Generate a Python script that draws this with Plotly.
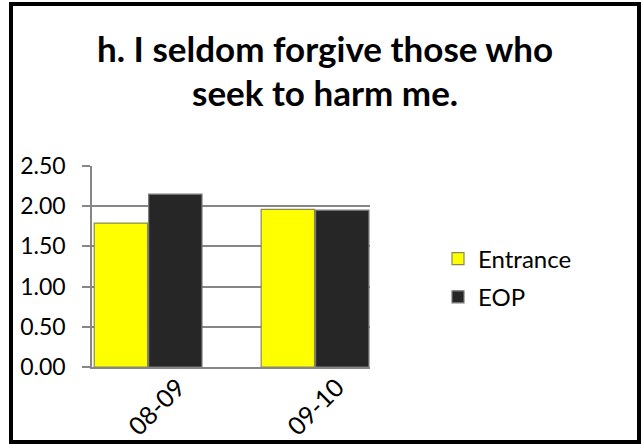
import plotly.graph_objects as go

categories = ["08-09", "09-10"]
entrance = [1.79, 1.96]
eop = [2.15, 1.95]
title_lines = ["h. I seldom forgive those who", "seek to harm me."]

L, R, T, B = 92, 271, 166, 77
W, H = 641, 444
pw, ph = W - L - R, H - T - B

def px_x(p):
    return (p - L) / pw

def px_y(p):
    return (H - B - p) / ph

FONT = "Lato"

fig = go.Figure()
fig.add_trace(go.Bar(x=categories, y=entrance, name="Entrance", legendgroup="a",
                     marker=dict(color="#FFFF00", line=dict(color="#8a8a50", width=1.2))))
fig.add_trace(go.Bar(x=categories, y=eop, name="EOP", legendgroup="b",
                     marker=dict(color="#262626", line=dict(color="#7a7a7a", width=1.2))))
# invisible carrier so the label axis is drawn
fig.add_trace(go.Scatter(x=[0, 1], y=[0, 0], xaxis="x2", mode="markers",
                         marker=dict(opacity=0), showlegend=False, hoverinfo="skip"))

title_pos = [(325, 48), (325, 92)]
annotations = [
    dict(text="<b>" + line + "</b>", xref="paper", yref="paper",
         x=px_x(cx), y=px_y(cy), xanchor="center", yanchor="middle",
         showarrow=False, font=dict(family=FONT, size=35, color="black"))
    for line, (cx, cy) in zip(title_lines, title_pos)
]

# label axis: category positions 0 and 1 placed where the reference shows its labels
lab_px_per_unit = 159
lab_left = -(178 - L) / lab_px_per_unit
lab_right = lab_left + pw / lab_px_per_unit

fig.update_layout(
    width=W, height=H,
    margin=dict(l=L, r=R, t=T, b=B, autoexpand=False),
    paper_bgcolor="white", plot_bgcolor="white",
    barmode="group", bargap=0.348, bargroupgap=0.02,
    font=dict(family=FONT, color="black", size=23),
    annotations=annotations,
    xaxis=dict(type="category", range=[-0.336, 1.329], showgrid=False, showline=True,
               linecolor="#868686", linewidth=1.5, ticks="", showticklabels=False),
    xaxis2=dict(type="linear", overlaying="x", anchor="y", side="bottom",
                range=[lab_left, lab_right], tickmode="array", tickvals=[0, 1],
                ticktext=categories, tickangle=-45, tickfont=dict(size=25),
                showgrid=False, showline=False, zeroline=False, ticks=""),
    yaxis=dict(range=[0, 2.5], dtick=0.5, tickformat=".2f", showgrid=True,
               gridcolor="#868686", gridwidth=1.5, showline=True, linecolor="#868686",
               linewidth=1.5, ticks="outside", ticklen=8, tickcolor="#868686",
               tickwidth=1.5, ticklabelstandoff=12, tickfont=dict(size=23), zeroline=False),
    legend=dict(x=px_x(438), y=px_y(278), xanchor="left", yanchor="middle",
                font=dict(size=24), tracegroupgap=4, traceorder="grouped",
                itemwidth=30, bgcolor="rgba(0,0,0,0)"),
    shapes=[dict(type="rect", xref="paper", yref="paper",
                 x0=px_x(11), x1=px_x(639), y0=px_y(442), y1=px_y(4),
                 line=dict(color="black", width=4))],
)

fig.write_html("out.html", config={"displayModeBar": False},
               post_script="document.body.style.margin='0';")
